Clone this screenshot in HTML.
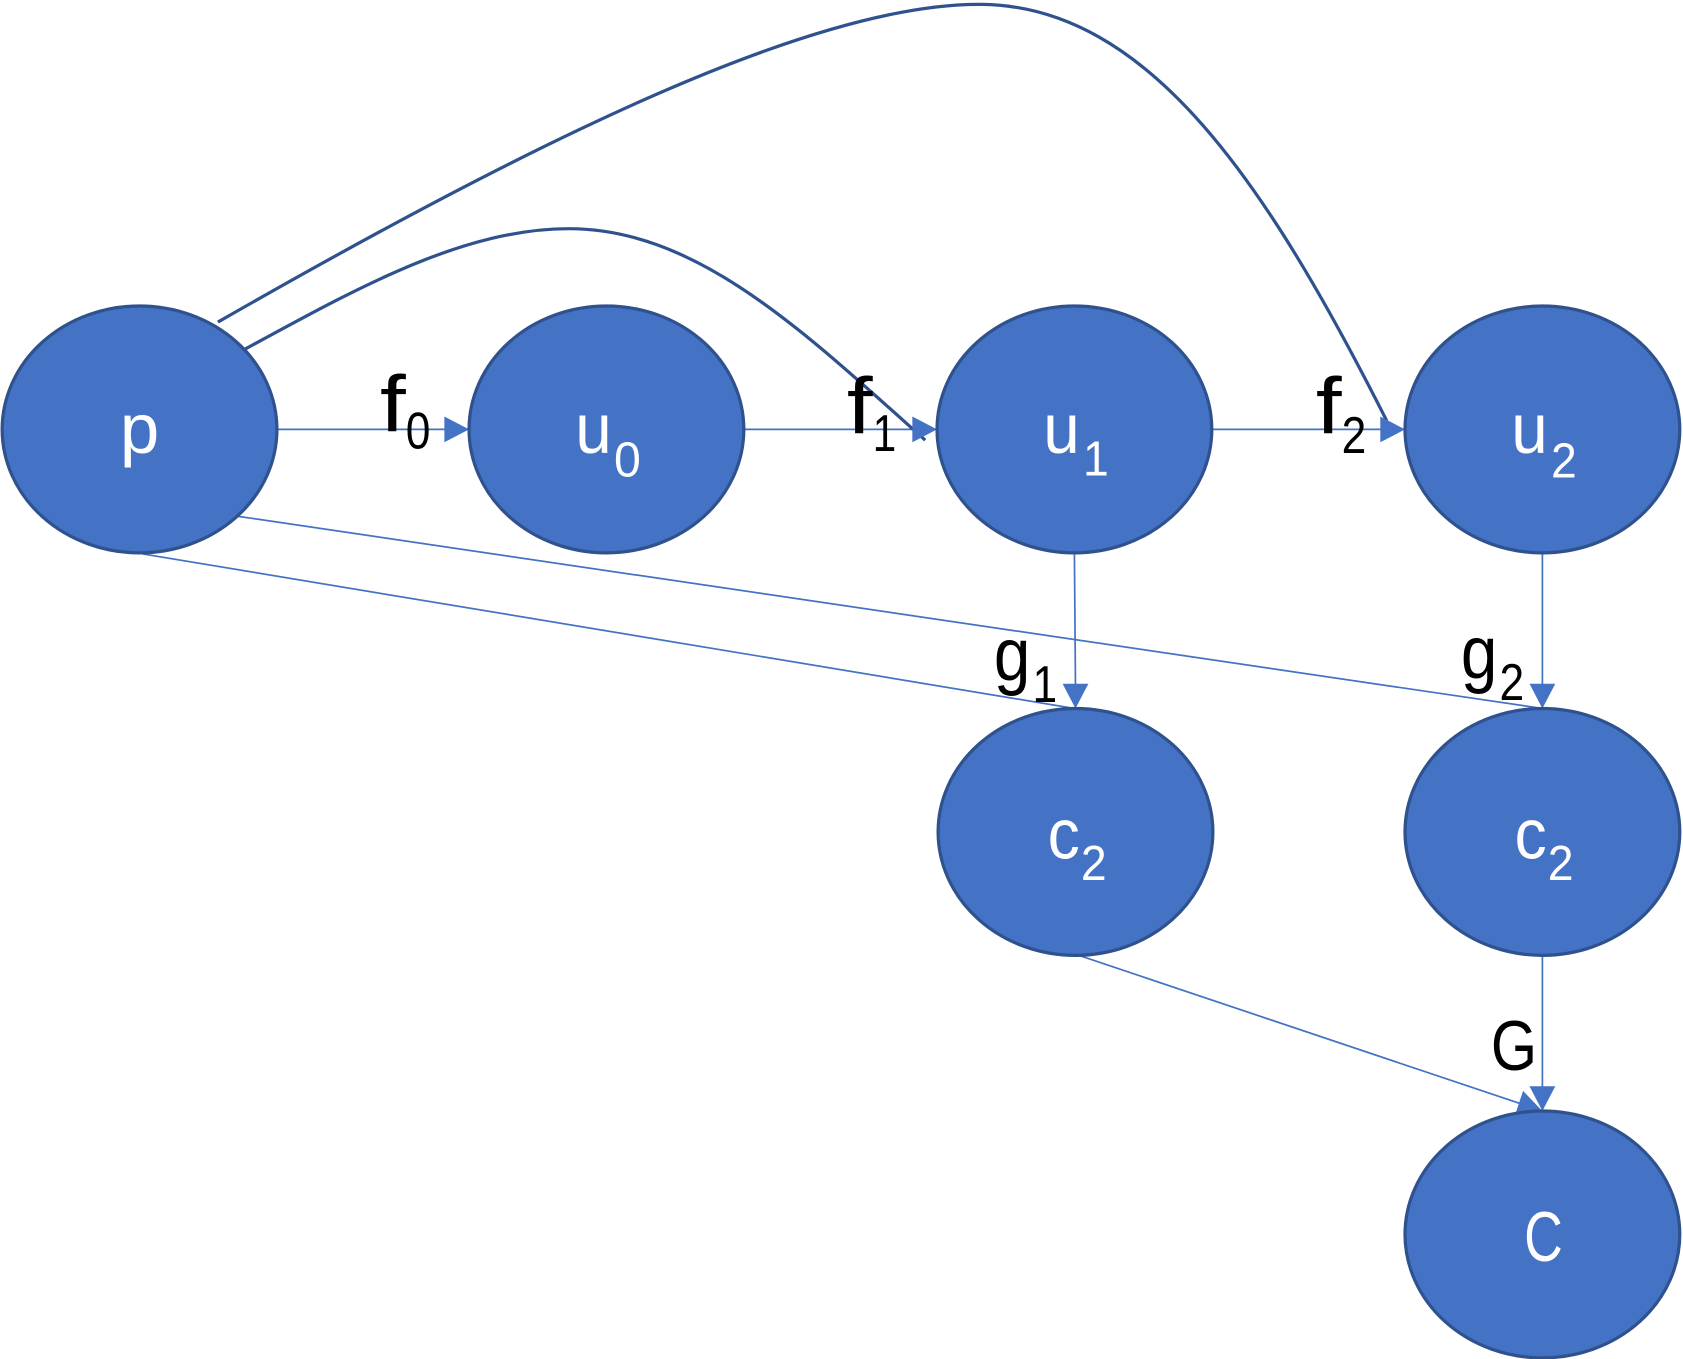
<!DOCTYPE html>
<html><head><meta charset="utf-8"><style>
html,body{margin:0;padding:0;background:#fff;}
svg{display:block;}
text{font-family:"Liberation Sans",sans-serif;}
</style></head><body>
<svg width="1683" height="1359" viewBox="0 0 1568 1266" xmlns="http://www.w3.org/2000/svg">
<rect width="1568" height="1266" fill="#fff"/>
<!-- thin connectors -->
<g stroke="#4472C4" stroke-width="1.6" fill="none">
<line x1="258" y1="400" x2="418" y2="400"/>
<line x1="693" y1="400" x2="855" y2="400"/>
<line x1="1130" y1="400" x2="1290" y2="400"/>
<line x1="1001" y1="516" x2="1002" y2="640"/>
<line x1="1437" y1="516" x2="1437" y2="640"/>
<line x1="1437" y1="890" x2="1437" y2="1015"/>
<line x1="1005" y1="890" x2="1416" y2="1028"/>
<line x1="133" y1="516" x2="1001" y2="660"/>
<line x1="222" y1="481" x2="1437" y2="660"/>
</g>
<!-- curves -->
<g stroke="#2F528F" stroke-width="3" fill="none">
<path d="M203,300 C500,130 760,2 915,4 C1070,6 1180,170 1292,392"/>
<path d="M225,327 C330,270 430,213 530,213 C650,213 750,310 862,410"/>
</g>
<!-- arrowheads -->
<g fill="#4472C4">
<polygon points="437,400 414,388 414,412"/>
<polygon points="873,400 850,388 850,412"/>
<polygon points="1309,400 1286,388 1286,412"/>
<polygon points="1002,660 990,637 1014,637"/>
<polygon points="1437,660 1425,637 1449,637"/>
<polygon points="1437,1035 1425,1012 1449,1012"/>
<polygon points="1437,1035 1411.4,1039.1 1419,1016.3"/>
</g>
<!-- nodes -->
<g fill="#4472C4" stroke="#2F528F" stroke-width="3">
<ellipse cx="130" cy="400" rx="128" ry="115"/>
<ellipse cx="565" cy="400" rx="128" ry="115"/>
<ellipse cx="1001" cy="400" rx="128" ry="115"/>
<ellipse cx="1437" cy="400" rx="128" ry="115"/>
<ellipse cx="1002" cy="775" rx="128" ry="115"/>
<ellipse cx="1437" cy="775" rx="128" ry="115"/>
<ellipse cx="1437" cy="1150" rx="128" ry="115"/>
</g>
<!-- node labels -->
<g fill="#fff">
<text x="130" y="422" font-size="66" text-anchor="middle">p</text>
<text x="536" y="422" font-size="66" textLength="34" lengthAdjust="spacingAndGlyphs">u</text>
<text x="572" y="444" font-size="46" textLength="25" lengthAdjust="spacingAndGlyphs">0</text>
<text x="972" y="422" font-size="66" textLength="34" lengthAdjust="spacingAndGlyphs">u</text>
<text x="1009" y="443" font-size="46" textLength="24" lengthAdjust="spacingAndGlyphs">1</text>
<text x="1408" y="422" font-size="66" textLength="34" lengthAdjust="spacingAndGlyphs">u</text>
<text x="1445" y="445" font-size="46" textLength="24" lengthAdjust="spacingAndGlyphs">2</text>
<text x="976" y="800" font-size="66" textLength="30" lengthAdjust="spacingAndGlyphs">c</text>
<text x="1007" y="820" font-size="46" textLength="24" lengthAdjust="spacingAndGlyphs">2</text>
<text x="1411" y="800" font-size="66" textLength="30" lengthAdjust="spacingAndGlyphs">c</text>
<text x="1442" y="820" font-size="46" textLength="24" lengthAdjust="spacingAndGlyphs">2</text>
<text x="1420" y="1175" font-size="66" textLength="36" lengthAdjust="spacingAndGlyphs">C</text>
</g>
<!-- edge labels -->
<g fill="#000">
<text x="354" y="402" font-size="74" textLength="24" lengthAdjust="spacingAndGlyphs">f</text>
<text x="378" y="418" font-size="48" textLength="23" lengthAdjust="spacingAndGlyphs">0</text>
<text x="789" y="404" font-size="74" textLength="24" lengthAdjust="spacingAndGlyphs">f</text>
<text x="813" y="420" font-size="48" textLength="22" lengthAdjust="spacingAndGlyphs">1</text>
<text x="1226" y="404" font-size="74" textLength="24" lengthAdjust="spacingAndGlyphs">f</text>
<text x="1250" y="422" font-size="48" textLength="23" lengthAdjust="spacingAndGlyphs">2</text>
<text x="926" y="634" font-size="70" textLength="34" lengthAdjust="spacingAndGlyphs">g</text>
<text x="962" y="654" font-size="48" textLength="23" lengthAdjust="spacingAndGlyphs">1</text>
<text x="1361" y="632" font-size="70" textLength="34" lengthAdjust="spacingAndGlyphs">g</text>
<text x="1397" y="652" font-size="48" textLength="23" lengthAdjust="spacingAndGlyphs">2</text>
<text x="1389" y="997" font-size="66" textLength="43" lengthAdjust="spacingAndGlyphs">G</text>
</g>
</svg>
</body></html>
